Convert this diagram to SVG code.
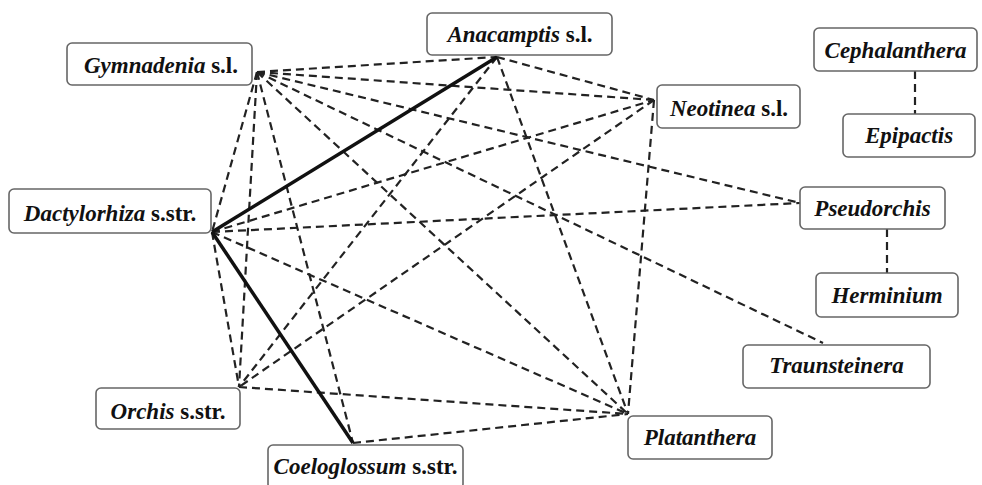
<svg xmlns="http://www.w3.org/2000/svg" width="982" height="485" viewBox="0 0 982 485">
<style>
.box{fill:#fff;stroke:#666;stroke-width:1.6}
.lbl{font-family:"Liberation Serif","Times New Roman",serif;font-size:23px;font-weight:bold;fill:#111;text-anchor:middle}
.it{font-style:italic}
.d{stroke:#222;stroke-width:2.2;stroke-dasharray:8 5;fill:none}
.s{stroke:#111;stroke-width:3.5;fill:none}
</style>
<rect width="982" height="485" fill="#fff"/>
<g id="connectors">
<line class="d" x1="257" y1="72" x2="497" y2="57"/>
<line class="d" x1="257" y1="72" x2="654" y2="100"/>
<line class="d" x1="257" y1="72" x2="800" y2="203"/>
<line class="d" x1="257" y1="72" x2="823" y2="343"/>
<line class="d" x1="257" y1="72" x2="628" y2="414"/>
<line class="d" x1="257" y1="72" x2="212" y2="232"/>
<line class="d" x1="257" y1="72" x2="239" y2="387"/>
<line class="d" x1="257" y1="72" x2="353" y2="443"/>
<line class="d" x1="212" y1="232" x2="654" y2="100"/>
<line class="d" x1="212" y1="232" x2="800" y2="203"/>
<line class="d" x1="212" y1="232" x2="628" y2="414"/>
<line class="d" x1="212" y1="232" x2="239" y2="387"/>
<line class="d" x1="497" y1="57" x2="654" y2="100"/>
<line class="d" x1="497" y1="57" x2="239" y2="387"/>
<line class="d" x1="497" y1="57" x2="628" y2="414"/>
<line class="d" x1="654" y1="100" x2="239" y2="387"/>
<line class="d" x1="654" y1="100" x2="628" y2="414"/>
<line class="d" x1="239" y1="387" x2="628" y2="414"/>
<line class="d" x1="353" y1="443" x2="628" y2="414"/>
<line class="d" x1="915" y1="71" x2="915" y2="114"/>
<line class="d" x1="887" y1="229" x2="887" y2="273"/>
<line class="s" x1="212" y1="232" x2="497" y2="57"/>
<line class="s" x1="212" y1="232" x2="353" y2="443"/>
</g>
<g id="gymnadenia"><rect class="box" x="67" y="43" width="185" height="42" rx="5"/><text class="lbl" x="161" y="73"><tspan class="it">Gymnadenia</tspan> s.l.</text></g>
<g id="anacamptis"><rect class="box" x="427" y="13" width="185" height="42" rx="5"/><text class="lbl" x="520" y="42"><tspan class="it">Anacamptis</tspan> s.l.</text></g>
<g id="neotinea"><rect class="box" x="657" y="85" width="143" height="43" rx="5"/><text class="lbl" x="729" y="116"><tspan class="it">Neotinea</tspan> s.l.</text></g>
<g id="cephalanthera"><rect class="box" x="814" y="28" width="163" height="43" rx="5"/><text class="lbl it" x="895.5" y="58">Cephalanthera</text></g>
<g id="epipactis"><rect class="box" x="843" y="114" width="132" height="43" rx="5"/><text class="lbl it" x="909" y="143">Epipactis</text></g>
<g id="dactylorhiza"><rect class="box" x="9" y="189" width="202" height="44" rx="5"/><text class="lbl" x="110" y="221"><tspan class="it">Dactylorhiza</tspan> s.str.</text></g>
<g id="pseudorchis"><rect class="box" x="800" y="187" width="145" height="42" rx="5"/><text class="lbl it" x="872.5" y="216">Pseudorchis</text></g>
<g id="herminium"><rect class="box" x="816" y="273" width="142" height="44" rx="5"/><text class="lbl it" x="887" y="303">Herminium</text></g>
<g id="traunsteinera"><rect class="box" x="743" y="345" width="187" height="43" rx="5"/><text class="lbl it" x="836.5" y="373">Traunsteinera</text></g>
<g id="orchis"><rect class="box" x="96" y="388" width="144" height="41" rx="5"/><text class="lbl" x="168" y="419"><tspan class="it">Orchis</tspan> s.str.</text></g>
<g id="coeloglossum"><rect class="box" x="268" y="445" width="195" height="44" rx="5"/><text class="lbl" x="365.5" y="474"><tspan class="it">Coeloglossum</tspan> s.str.</text></g>
<g id="platanthera"><rect class="box" x="628" y="416" width="144" height="43" rx="5"/><text class="lbl it" x="700" y="445">Platanthera</text></g>
</svg>
